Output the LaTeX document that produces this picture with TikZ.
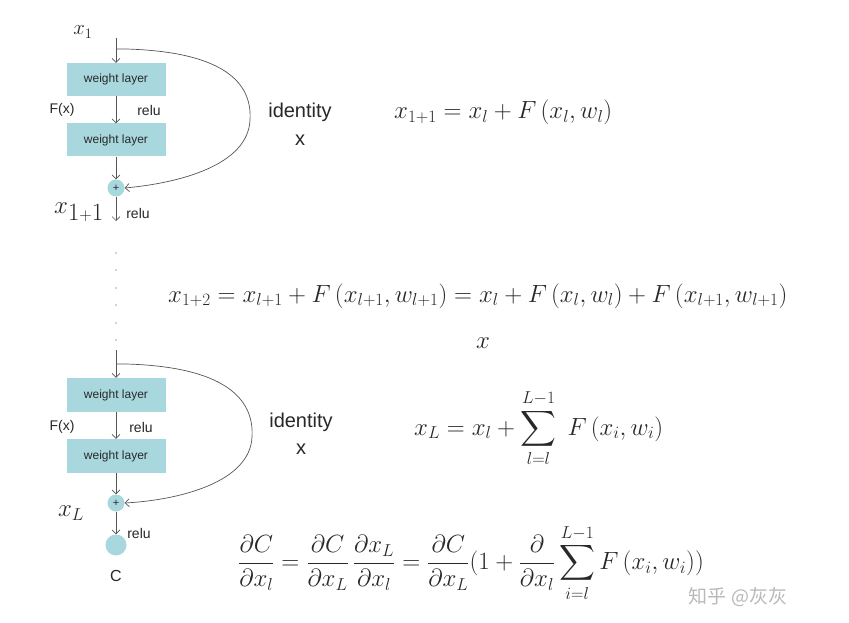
\documentclass[tikz,border=0pt]{standalone}
\usepackage{amsmath}
\usepackage{fontspec}
\setsansfont{Liberation Sans}
\newfontfamily\cjkfont{Noto Sans CJK SC}
\usetikzlibrary{arrows.meta}
\definecolor{boxc}{RGB}{168,216,222}
\definecolor{linec}{RGB}{85,85,85}
\definecolor{txtc}{RGB}{40,40,40}
\begin{document}
\begin{tikzpicture}[x=1pt,y=-1pt,
  wl/.style={fill=boxc, minimum width=99pt, minimum height=33pt, inner sep=0pt,
    font=\sffamily\fontsize{12}{14}\selectfont, text=txtc},
  plusc/.style={circle, fill=boxc, minimum size=17pt, inner sep=0pt,
    font=\sffamily\fontsize{11}{12}\selectfont, text=txtc},
  endc/.style={circle, fill=boxc, minimum size=21pt, inner sep=0pt},
  arr/.style={draw=linec, line width=0.7pt, -{Straight Barb[length=4pt,width=8pt]}},
  ln/.style={draw=linec, line width=0.7pt},
  lbl/.style={font=\sffamily\fontsize{14}{16}\selectfont, text=txtc, inner sep=0pt},
  idl/.style={font=\sffamily\fontsize{20}{22}\selectfont, text=txtc, inner sep=0pt},
  eq/.style={font=\fontsize{26.5}{30}\selectfont, text=txtc, inner sep=0pt},
  dotc/.style={fill=gray!70}]
\useasboundingbox[fill=white] (0,0) rectangle (849,623);

% ---------- first block ----------
\node[font=\fontsize{22}{26}\selectfont, text=txtc, inner sep=0pt] (x1) at (83,32) {$x_1$};
\coordinate (t1) at (116,38);
\coordinate (s1) at (116,49);
\node[wl] (w1) at (116,79.5) {weight layer};
\node[wl] (w2) at (116,140) {weight layer};
\node[plusc] (p1) at (116,188) {+};
\coordinate (r1) at (116,221);
\draw[arr] (t1) -- (w1);
\draw[arr] (w1) -- (w2);
\draw[arr] (w2) -- (p1);
\draw[arr] (p1) -- (r1);
\draw[arr] (s1) -- (126,49) .. controls (232,52) and (252,88) .. (250,120)
  .. controls (248,165) and (180,183) .. (p1.east);
\node[lbl] (fx1) at (62,110) {F(x)};
\node[lbl] (re1) at (149,110) {relu};
\node[idl] (id1) at (300,112) {identity};
\node[idl] (ix1) at (300,140) {x};
\node[font=\fontsize{36}{40}\selectfont, text=txtc, inner sep=0pt] (x11) at (79,212) {$x_{1{\scriptscriptstyle+}1}$};
\node[lbl] (re2) at (138,213) {relu};

% ---------- dots ----------
\foreach \yy in {253,270,288,305,323,340} \fill[dotc] (116,\yy) circle (0.9);

% ---------- second block ----------
\coordinate (t2) at (116,350);
\coordinate (s2) at (116,364);
\node[wl, minimum height=34pt] (w3) at (116,395) {weight layer};
\node[wl, minimum height=34pt] (w4) at (116,456) {weight layer};
\node[plusc] (p2) at (116,503) {+};
\node[endc] (cc) at (116,545) {};
\draw[arr] (t2) -- (w3);
\draw[arr] (w3) -- (w4);
\draw[arr] (w4) -- (p2);
\draw[arr] (p2) -- (cc);
\draw[arr] (s2) -- (126,364) .. controls (234,367) and (254,405) .. (252,437)
  .. controls (250,482) and (180,500) .. (p2.east);
\node[lbl] (fx2) at (62,427) {F(x)};
\node[lbl] (re3) at (141,427) {relu};
\node[idl] (id2) at (301,422) {identity};
\node[idl] (ix2) at (301,449) {x};
\node[font=\fontsize{24}{28}\selectfont, text=txtc, inner sep=0pt] (xL) at (71,513) {$x_L$};
\node[lbl] (re4) at (139,533) {relu};
\node[font=\sffamily\fontsize{16}{18}\selectfont, text=txtc, inner sep=0pt] (cl) at (116,576) {C};

% ---------- equations ----------
\node[eq, anchor=base west] (e1) at (394,119)
  {$x_{1+1} = x_l + F\,(x_l, w_l)$};
\node[eq, anchor=base west] (e2) at (168,302)
  {$x_{1+2} = x_{l+1} + F\,(x_{l+1}, w_{l+1}) = x_l + F\,(x_l, w_l) + F\,(x_{l+1}, w_{l+1})$};
\node[eq] (e3) at (483,343) {$x$};
\node[eq, anchor=base west] (e4) at (414,435)
  {$\displaystyle x_L = x_l + \sum_{l=l}^{L-1}\; F\,(x_i, w_i)$};
\node[eq, anchor=west] (e5) at (238,563)
  {$\displaystyle \frac{\partial C}{\partial x_l} = \frac{\partial C}{\partial x_L}\,\frac{\partial x_L}{\partial x_l}
   = \frac{\partial C}{\partial x_L}(1 + \frac{\partial}{\partial x_l}\sum_{i=l}^{L-1} F\,(x_i, w_i))$};

% ---------- watermark ----------
\node[font=\fontsize{19}{22}\selectfont, text=gray!55, inner sep=0pt] (wm) at (738,597)
  {\cjkfont 知乎 @灰灰};
\end{tikzpicture}
\end{document}
